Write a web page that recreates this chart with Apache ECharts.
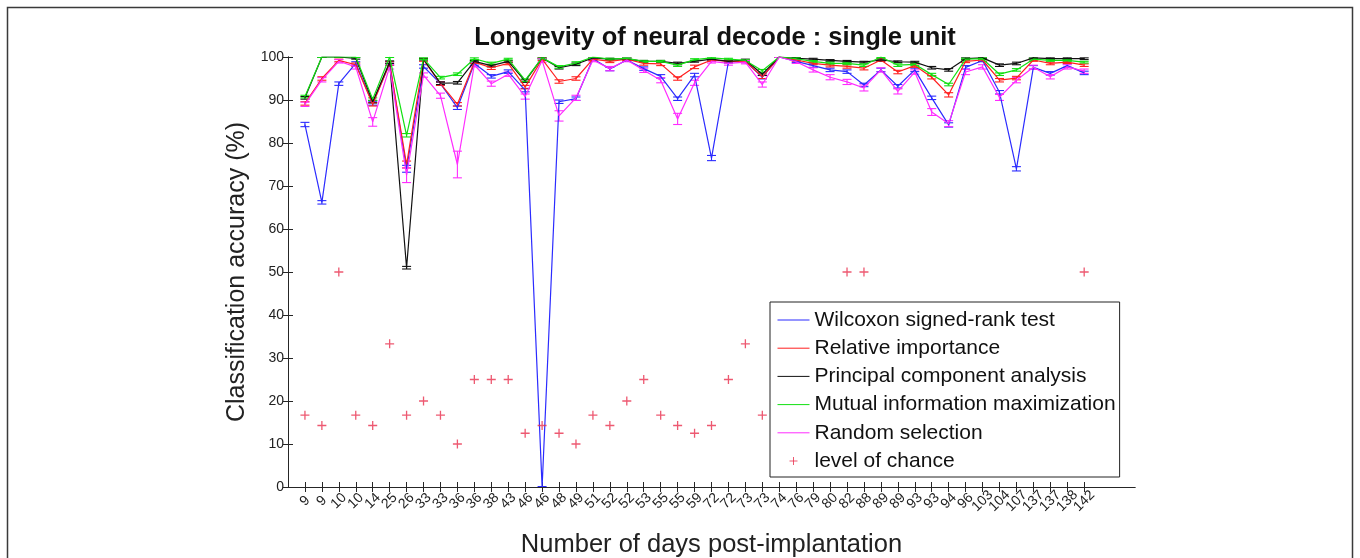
<!DOCTYPE html>
<html>
<head>
<meta charset="utf-8">
<script src="https://cdn.jsdelivr.net/npm/echarts@6/dist/echarts.min.js"></script>
<style>
  html, body { margin: 0; padding: 0; background: #fff; }
  #chart { width: 1360px; height: 558px; }
</style>
</head>
<body>
<div id="chart"></div>
<script>
// Recording sessions, labelled by days after implantation
const dayLabels = [
  '9', '9', '10', '10', '14', '25', '26', '33', '33', '36',
  '36', '38', '43', '46', '46', '48', '49', '51', '52', '52',
  '53', '55', '55', '59', '72', '72', '73', '73', '74', '76',
  '79', '80', '82', '88', '89', '89', '93', '93', '94', '96',
  '103', '104', '107', '137', '137', '138', '142'
];

// Mean classification accuracy (%) per feature-selection method
const wilcoxon = [
  84.3, 66.2, 93.8, 98.5, 89.2, 98.5, 74.0, 97.8, 93.8, 88.2,
  98.5, 95.5, 96.6, 92.3, 0.0, 89.6, 90.3, 99.6, 97.2, 99.3,
  97.3, 95.5, 90.3, 95.8, 76.5, 98.9, 99.0, 95.3, 100.0, 99.0,
  98.0, 97.0, 96.6, 93.5, 97.0, 93.2, 97.0, 90.5, 84.2, 97.6,
  99.2, 91.8, 74.0, 97.6, 96.2, 98.0, 96.3
];
const relImportance = [
  89.2, 95.0, 99.2, 98.2, 89.0, 98.5, 75.0, 99.3, 93.8, 89.0,
  98.8, 97.5, 98.5, 93.0, 99.5, 94.3, 95.0, 99.5, 99.0, 99.5,
  98.5, 98.4, 95.0, 97.7, 99.3, 99.0, 99.0, 95.4, 100.0, 99.3,
  98.5, 98.1, 97.8, 97.4, 99.3, 96.5, 98.0, 95.3, 91.2, 99.0,
  99.3, 94.6, 95.1, 99.3, 98.5, 98.8, 98.1
];
const pca = [
  90.5, 100.0, 100.0, 99.7, 89.6, 98.8, 51.0, 99.5, 93.9, 94.0,
  99.0, 98.0, 99.0, 94.4, 99.8, 97.5, 98.3, 99.8, 99.5, 99.6,
  99.0, 99.0, 98.5, 99.0, 99.5, 99.0, 99.3, 96.0, 100.0, 99.7,
  99.5, 99.2, 99.0, 98.8, 99.3, 98.9, 98.8, 97.5, 97.0, 99.6,
  99.8, 98.1, 98.5, 99.8, 99.6, 99.6, 99.6
];
const mutualInfo = [
  90.8, 100.0, 100.0, 100.0, 90.2, 100.0, 81.8, 99.6, 95.2, 96.0,
  99.6, 98.5, 99.5, 94.6, 99.8, 97.7, 98.6, 100.0, 99.5, 99.7,
  99.0, 99.0, 98.1, 99.4, 99.8, 99.5, 99.2, 96.8, 100.0, 99.6,
  99.0, 98.5, 98.5, 98.1, 100.0, 98.1, 98.3, 95.9, 93.6, 99.5,
  99.6, 96.0, 97.0, 99.5, 99.2, 99.2, 98.8
];
const randomSel = [
  89.0, 94.7, 99.0, 97.7, 84.9, 97.7, 72.5, 95.8, 91.0, 75.0,
  98.2, 93.8, 96.0, 90.8, 99.2, 86.3, 90.5, 99.3, 97.3, 99.3,
  96.9, 94.6, 85.6, 94.0, 99.0, 98.5, 98.8, 93.6, 100.0, 98.9,
  97.0, 95.3, 94.2, 92.8, 97.0, 92.0, 96.5, 87.2, 84.5, 96.5,
  97.7, 90.6, 94.6, 97.6, 95.4, 97.7, 96.7
];

// Half-width of the error bar for each mean
const wilcoxonErr = [
  0.5, 0.4, 0.4, 0.4, 0.4, 0.4, 0.8, 0.4, 0.4, 0.4,
  0.4, 0.4, 0.4, 0.4, 0.1, 0.4, 0.4, 0.3, 0.4, 0.3,
  0.4, 0.4, 0.4, 0.4, 0.6, 0.3, 0.3, 0.4, 0.1, 0.3,
  0.4, 0.4, 0.4, 0.4, 0.4, 0.4, 0.4, 0.4, 0.5, 0.4,
  0.3, 0.4, 0.5, 0.4, 0.4, 0.4, 0.4
];
const relImportanceErr = [
  0.4, 0.4, 0.3, 0.4, 0.4, 0.4, 0.8, 0.3, 0.4, 0.4,
  0.3, 0.4, 0.3, 0.4, 0.3, 0.4, 0.4, 0.3, 0.3, 0.3,
  0.4, 0.4, 0.4, 0.4, 0.3, 0.3, 0.3, 0.4, 0.1, 0.3,
  0.3, 0.4, 0.4, 0.4, 0.3, 0.4, 0.4, 0.4, 0.5, 0.3,
  0.3, 0.4, 0.4, 0.3, 0.3, 0.3, 0.3
];
const pcaErr = [
  0.3, 0.1, 0.1, 0.2, 0.3, 0.3, 0.3, 0.2, 0.3, 0.3,
  0.2, 0.3, 0.2, 0.3, 0.2, 0.3, 0.3, 0.2, 0.2, 0.2,
  0.2, 0.2, 0.3, 0.2, 0.2, 0.2, 0.2, 0.3, 0.1, 0.2,
  0.2, 0.2, 0.2, 0.2, 0.2, 0.2, 0.2, 0.3, 0.3, 0.2,
  0.2, 0.3, 0.3, 0.2, 0.2, 0.2, 0.2
];
const mutualInfoErr = [
  0.3, 0.1, 0.1, 0.1, 0.3, 0.1, 0.4, 0.2, 0.3, 0.3,
  0.2, 0.3, 0.2, 0.3, 0.2, 0.3, 0.3, 0.1, 0.2, 0.2,
  0.2, 0.2, 0.3, 0.2, 0.2, 0.2, 0.2, 0.3, 0.1, 0.2,
  0.2, 0.3, 0.3, 0.3, 0.1, 0.3, 0.3, 0.3, 0.3, 0.2,
  0.2, 0.3, 0.3, 0.2, 0.2, 0.2, 0.2
];
const randomSelErr = [
  0.5, 0.5, 0.4, 0.5, 1.0, 0.5, 1.7, 0.5, 0.6, 3.1,
  0.5, 0.6, 0.5, 0.6, 0.4, 1.2, 0.6, 0.4, 0.5, 0.4,
  0.5, 0.6, 1.3, 0.6, 0.4, 0.4, 0.4, 0.6, 0.1, 0.4,
  0.5, 0.6, 0.6, 0.7, 0.5, 0.6, 0.5, 0.8, 0.7, 0.6,
  0.5, 0.7, 0.6, 0.5, 0.5, 0.5, 0.5
];

// Chance level (%) = 100 / number of classes in each session
const chanceLevel = [
  16.7, 14.3, 50.0, 16.7, 14.3, 33.3, 16.7, 20.0, 16.7, 10.0,
  25.0, 25.0, 25.0, 12.5, 14.3, 12.5, 10.0, 16.7, 14.3, 20.0,
  25.0, 16.7, 14.3, 12.5, 14.3, 25.0, 33.3, 16.7, 14.3, 16.7,
  12.5, 20.0, 50.0, 50.0, 25.0, 16.7, 14.3, 12.5, 25.0, 20.0,
  16.7, 14.3, 12.5, 16.7, 20.0, 25.0, 50.0
];

const methods = [
  { name: 'Wilcoxon signed-rank test', color: '#2b2bff', values: wilcoxon, errs: wilcoxonErr },
  { name: 'Relative importance', color: '#ff1f1f', values: relImportance, errs: relImportanceErr },
  { name: 'Principal component analysis', color: '#111111', values: pca, errs: pcaErr },
  { name: 'Mutual information maximization', color: '#12e012', values: mutualInfo, errs: mutualInfoErr },
  { name: 'Random selection', color: '#ff2cff', values: randomSel, errs: randomSelErr }
];

const FONT = 'Liberation Sans, Arial, Helvetica, sans-serif';
const AXIS_COLOR = '#262626';
const tickPositions = dayLabels.map((_, i) => i + 1);
// one extra blank label slot past the last session keeps the end label from being culled
const labelPositions = tickPositions.concat([dayLabels.length + 1]);
const plusPath = 'path://M5,0L5,10M0,5L10,5';
const plusLegendPath = 'path://M0,0M16,3L16,11M12,7L20,7M32,14';
const chanceColor = '#e8304e';

function errorBars(m) {
  return {
    type: 'custom',
    name: m.name + ' (error)',
    silent: true,
    clip: true,
    data: m.values.map((v, i) => [i + 1, v - m.errs[i], v + m.errs[i]]),
    encode: { x: 0, y: [1, 2] },
    renderItem(params, api) {
      const x = api.value(0);
      const lo = api.coord([x, api.value(1)]);
      const hi = api.coord([x, api.value(2)]);
      const w = 4.5;
      const style = { stroke: m.color, lineWidth: 1.1, fill: null };
      return {
        type: 'group',
        children: [
          { type: 'line', shape: { x1: lo[0], y1: lo[1], x2: hi[0], y2: hi[1] }, style },
          { type: 'line', shape: { x1: lo[0] - w, y1: lo[1], x2: lo[0] + w, y2: lo[1] }, style },
          { type: 'line', shape: { x1: hi[0] - w, y1: hi[1], x2: hi[0] + w, y2: hi[1] }, style }
        ]
      };
    }
  };
}

const series = [];
methods.forEach(m => {
  series.push({
    type: 'line',
    name: m.name,
    data: m.values.map((v, i) => [i + 1, v]),
    symbol: 'none',
    lineStyle: { color: m.color, width: 1.2 },
    itemStyle: { color: m.color },
    clip: true,
    animation: false
  });
  series.push(errorBars(m));
});
series.push({
  type: 'scatter',
  name: 'level of chance',
  data: chanceLevel.map((v, i) => [i + 1, v]),
  symbol: plusPath,
  symbolSize: 9,
  itemStyle: { color: 'none', borderColor: chanceColor, borderWidth: 1.3 },
  z: 3
});

const chart = echarts.init(document.getElementById('chart'), null, { renderer: 'canvas' });

const baseX = {
  type: 'value', min: 0, max: 50,
  axisLine: { show: true, lineStyle: { color: AXIS_COLOR, width: 1 } },
  splitLine: { show: false }
};
const baseY = {
  type: 'value', min: 0, max: 100, interval: 10,
  axisLine: { show: true, lineStyle: { color: AXIS_COLOR, width: 1 } },
  splitLine: { show: false }
};

chart.setOption({
  animation: false,
  backgroundColor: '#ffffff',
  title: {
    text: 'Longevity of neural decode : single unit',
    left: 710, top: 20, textAlign: 'center',
    textStyle: { fontFamily: FONT, fontSize: 25.5, fontWeight: 'bold', color: '#111' }
  },
  grid: { left: 288, right: 225, top: 57, bottom: 71, containLabel: false, outerBoundsMode: 'none' },
  xAxis: [
    Object.assign({}, baseX, {
      position: 'bottom',
      name: 'Number of days post-implantation',
      nameLocation: 'middle', nameGap: 45,
      nameTextStyle: { fontFamily: FONT, fontSize: 25.5, color: '#222' },
      axisTick: { show: true, inside: true, length: 5, customValues: tickPositions, lineStyle: { color: AXIS_COLOR } },
      axisLabel: {
        show: true, customValues: labelPositions, rotate: 45,
        hideOverlap: false,
        align: 'center', verticalAlign: 'middle', margin: 14,
        fontFamily: FONT, fontSize: 14, color: '#222',
        formatter: v => dayLabels[Math.round(v) - 1] || ''
      }
    }),
    Object.assign({}, baseX, {
      position: 'top',
      axisTick: { show: true, inside: true, length: 5, customValues: tickPositions, lineStyle: { color: AXIS_COLOR } },
      axisLabel: { show: false }
    })
  ],
  yAxis: [
    Object.assign({}, baseY, {
      position: 'left',
      name: 'Classification accuracy (%)',
      nameLocation: 'middle', nameGap: 38,
      nameTextStyle: { fontFamily: FONT, fontSize: 25, color: '#222' },
      axisTick: { show: true, inside: true, length: 5, lineStyle: { color: AXIS_COLOR } },
      axisLabel: { fontFamily: FONT, fontSize: 14, color: '#222', margin: 4 }
    }),
    Object.assign({}, baseY, {
      position: 'right',
      axisTick: { show: true, inside: true, length: 5, lineStyle: { color: AXIS_COLOR } },
      axisLabel: { show: false }
    })
  ],
  legend: {
    orient: 'vertical',
    left: 770, top: 302,
    padding: [7, 4, 5, 5],
    itemWidth: 32, itemHeight: 14, itemGap: 6.2,
    backgroundColor: '#ffffff',
    borderColor: '#222', borderWidth: 1, borderRadius: 0,
    selectedMode: false,
    textStyle: { fontFamily: FONT, fontSize: 21, color: '#111', lineHeight: 22 },
    data: methods.map(m => ({ name: m.name, itemStyle: { opacity: 0 }, lineStyle: { width: 1 } })).concat([
      { name: 'level of chance', icon: plusLegendPath,
        itemStyle: { color: 'none', borderColor: chanceColor, borderWidth: 1 } }
    ])
  },
  graphic: [{
    type: 'rect', silent: true, z: -10,
    shape: { x: 7.5, y: 7.5, width: 1345, height: 620 },
    style: { fill: 'none', stroke: '#3a3a3a', lineWidth: 1.5 }
  }],
  series
});
</script>
</body>
</html>
